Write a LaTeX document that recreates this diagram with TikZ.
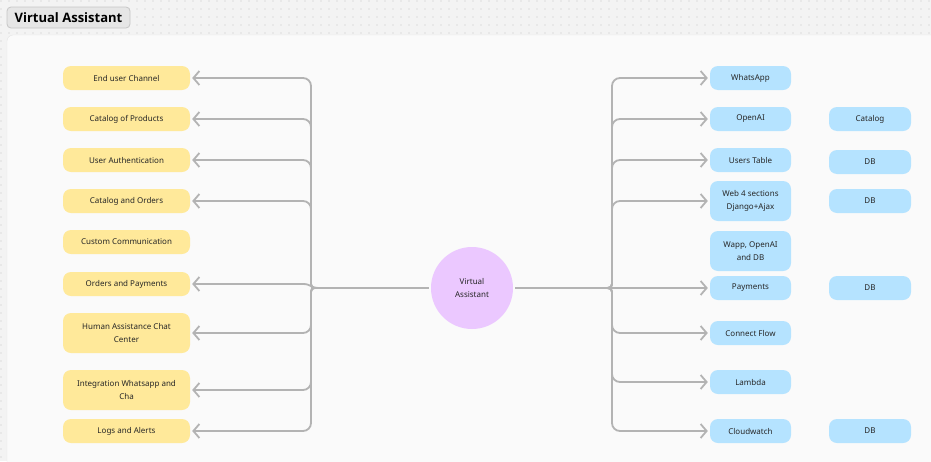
\documentclass[tikz,border=0pt]{standalone}
\usepackage{fontspec}
\setmainfont{Noto Sans}
\newfontfamily\titlefont{Open Sans}
\usetikzlibrary{arrows.meta}
\definecolor{ybox}{HTML}{FFE99A}
\definecolor{bbox}{HTML}{B5E3FF}
\definecolor{pcirc}{HTML}{EBC8FF}
\definecolor{linec}{HTML}{B3B3B3}
\definecolor{bgc}{HTML}{F3F3F3}
\definecolor{dotc}{HTML}{C4C4C4}
\definecolor{framefill}{HTML}{FAFAFA}
\definecolor{framec}{HTML}{E4E4E4}
\definecolor{txt}{HTML}{262626}
\definecolor{titlefill}{HTML}{E6E6E6}
\definecolor{titleborder}{HTML}{C6C6C6}
\begin{document}
\begin{tikzpicture}[x=1pt,y=-1pt,
  box/.style={rounded corners=8pt, inner sep=0pt, align=center, text=txt,
    font=\fontsize{8}{12.5}\selectfont, minimum height=24pt},
  ynode/.style={box, fill=ybox, minimum width=127pt},
  bnode/.style={box, fill=bbox, minimum width=81pt},
  fnode/.style={box, fill=bbox, minimum width=82pt},
  tall/.style={minimum height=40pt},
  conn/.style={draw=linec, line width=1.8pt, line join=round,
    -{Straight Barb[length=6pt,width=14pt]}, shorten >=2pt}]
\useasboundingbox (0,0) rectangle (931,461);
\fill[bgc] (0,0) rectangle (931,461);
\foreach \i in {0,...,116} \foreach \j in {0,...,4} \fill[dotc] (8*\i+1,8*\j+1) circle (0.6);
\foreach \j in {5,...,57} \fill[dotc] (1,8*\j+1) circle (0.6);
\draw[framec, fill=framefill, rounded corners=6pt] (7,35) rectangle (945,475);
\node[draw=titleborder, fill=titlefill, rounded corners=4pt, line width=0.8pt,
  minimum width=123pt, minimum height=21pt, inner sep=0pt, text=black,
  font=\titlefont\fontsize{13}{15}\selectfont\bfseries] (title) at (68.5,17.5) {Virtual Assistant};

% centre
\node[circle, fill=pcirc, minimum size=82pt, inner sep=0pt, align=center, text=txt,
  font=\fontsize{8}{12.5}\selectfont] (va) at (472,288) {Virtual\\Assistant};

% left
\node[ynode] (euc) at (126.5,78) {End user Channel};
\node[ynode] (cop) at (126.5,119) {Catalog of Products};
\node[ynode] (ua) at (126.5,160) {User Authentication};
\node[ynode] (cao) at (126.5,201) {Catalog and Orders};
\node[ynode] (cc) at (126.5,242) {Custom Communication};
\node[ynode] (oap) at (126.5,284) {Orders and Payments};
\node[ynode, tall] (hac) at (126.5,333) {Human Assistance Chat\\Center};
\node[ynode, tall] (iwc) at (126.5,390) {Integration Whatsapp and\\Cha};
\node[ynode] (laa) at (126.5,431) {Logs and Alerts};

% right
\node[bnode] (wa) at (750.5,78) {WhatsApp};
\node[bnode] (oai) at (750.5,119) {OpenAI};
\node[bnode] (ut) at (750.5,160) {Users Table};
\node[bnode, tall] (web) at (750.5,201) {Web 4 sections\\Django+Ajax};
\node[bnode, tall] (wod) at (750.5,251) {Wapp, OpenAI\\and DB};
\node[bnode] (pay) at (750.5,288) {Payments};
\node[bnode] (cf) at (750.5,333) {Connect Flow};
\node[bnode] (lam) at (750.5,382) {Lambda};
\node[bnode] (cw) at (750.5,431) {Cloudwatch};

% far right
\node[fnode] (fcat) at (870,119) {Catalog};
\node[fnode] (fdb1) at (870,162) {DB};
\node[fnode] (fdb2) at (870,201) {DB};
\node[fnode] (fdb3) at (870,288) {DB};
\node[fnode] (fdb4) at (870,431) {DB};

% left connectors
\foreach \n/\y in {euc/78, cop/119, ua/160, cao/201}
  \draw[conn] ([xshift=-2pt]va.west) -- (318,288) .. controls (311,288) .. (311,280)
    [rounded corners=8pt] -- (311,\y) -- (\n.east);
\foreach \n/\y in {hac/333, iwc/390, laa/431}
  \draw[conn] ([xshift=-2pt]va.west) -- (318,288) .. controls (311,288) .. (311,296)
    [rounded corners=8pt] -- (311,\y) -- (\n.east);
\draw[conn] ([xshift=-2pt]va.west) -- (318,288) .. controls (311,288) and (311,284) .. (303,284) -- (oap.east);

% right connectors
\foreach \n/\y in {wa/78, oai/119, ut/160, web/201}
  \draw[conn] ([xshift=2pt]va.east) -- (603,288) .. controls (612,288) .. (612,280)
    [rounded corners=8pt] -- (612,\y) -- (\n.west);
\foreach \n/\y in {cf/333, lam/382, cw/431}
  \draw[conn] ([xshift=2pt]va.east) -- (603,288) .. controls (612,288) .. (612,296)
    [rounded corners=8pt] -- (612,\y) -- (\n.west);
\draw[conn] ([xshift=2pt]va.east) -- (pay.west);
\end{tikzpicture}
\end{document}
